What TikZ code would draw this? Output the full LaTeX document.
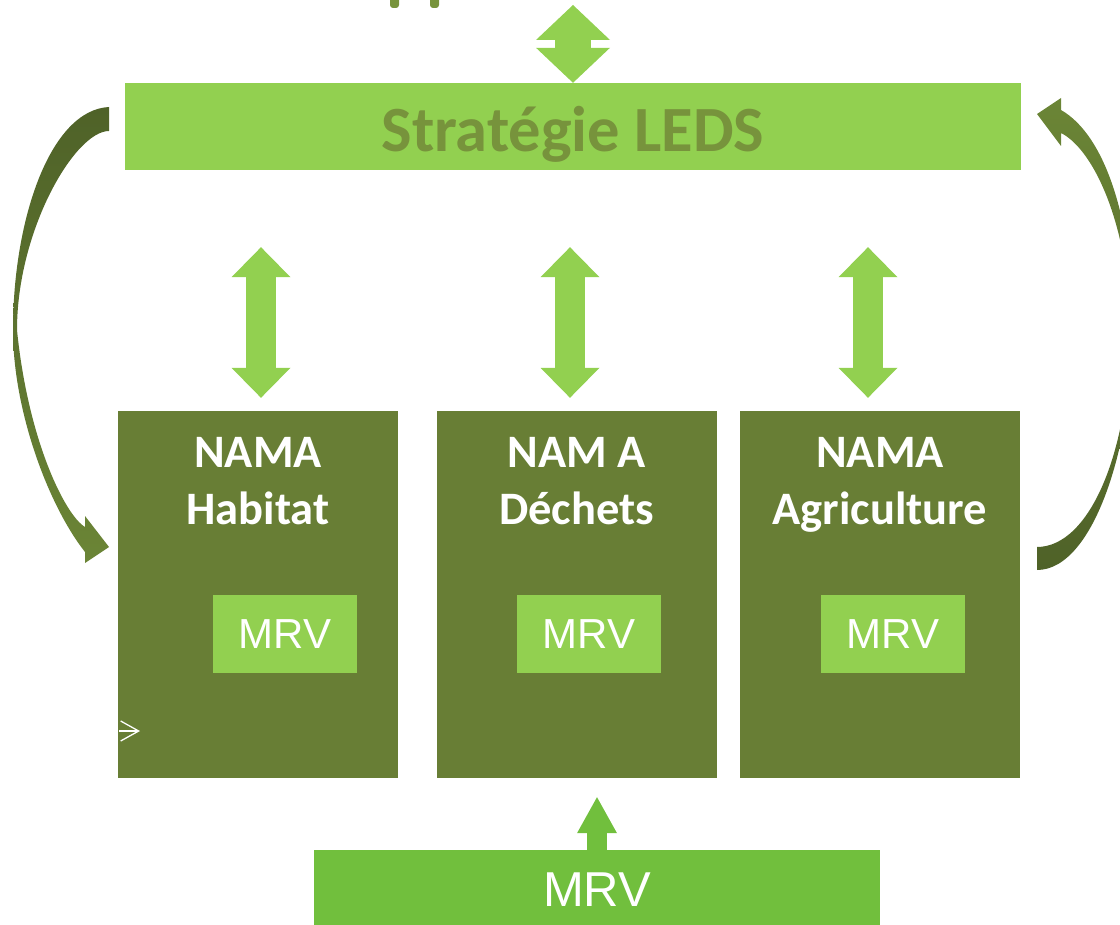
\documentclass[tikz,border=0pt]{standalone}
\usepackage{fontspec}
\setmainfont{Carlito}
\newfontfamily\mrvfont{Liberation Sans}
\usetikzlibrary{arrows.meta, positioning}

\definecolor{leafGreen}{HTML}{92D050}
\definecolor{oliveBox}{HTML}{687E35}
\definecolor{oliveText}{HTML}{77933C}
\definecolor{grassGreen}{HTML}{71BF3D}
\definecolor{mossDark}{HTML}{4F6228}
\definecolor{mossLight}{HTML}{6B8536}

\tikzset{
  namaBox/.style = {
    fill=oliveBox,
    minimum width=280pt,
    minimum height=367pt,
    inner sep=0pt,
  },
  namaTitle/.style = {
    text=white,
    align=center,
    inner sep=0pt,
    font=\fontsize{46.5}{57}\selectfont\bfseries,
  },
  mrvBox/.style = {
    fill=leafGreen,
    text=white,
    inner sep=0pt,
    minimum width=144pt,
    minimum height=78pt,
    font=\mrvfont\fontsize{42}{50}\selectfont,
  },
}

\begin{document}
\begin{tikzpicture}[
  x=1pt,
  y=-1pt,
  ledsBar/.style = {
    fill=leafGreen,
    text=oliveText,
    inner sep=0pt,
    minimum width=896pt,
    minimum height=87pt,
    text height=51pt,
    text depth=0pt,
    font=\fontsize{64.5}{70}\selectfont\bfseries,
  },
  mrvBar/.style = {
    fill=grassGreen,
    text=white,
    inner sep=0pt,
    minimum width=566pt,
    minimum height=80pt,
    font=\mrvfont\fontsize{49}{56}\selectfont,
  },
  link/.style = {
    draw=leafGreen,
    line width=30pt,
    {Triangle[length=30pt, width=59pt, line width=0pt]}-{Triangle[length=30pt, width=59pt, line width=0pt]},
    shorten <=77pt,
    shorten >=13pt,
  },
  bigLink/.style = {
    draw=leafGreen,
    line width=36pt,
    {Triangle[length=35pt, width=74pt, line width=0pt]}-{Triangle[length=35pt, width=74pt, line width=0pt]},
  },
  upLink/.style = {
    draw=grassGreen,
    line width=20pt,
    -{Triangle[length=36pt, width=40pt, line width=0pt]},
    shorten >=19pt,
  },
]

\useasboundingbox (0,0) rectangle (1120,925);

% cut-off marks at the top edge
\fill[oliveText, rounded corners=3pt] (390,-6) rectangle (399,8);
\fill[oliveText, rounded corners=3pt] (430,-6) rectangle (439,8);

\node(Leds)[ledsBar] at (573,126.5) {Stratégie LEDS};

\node(Hab)[namaBox] at (258,594.5) {};
\node(Dech)[namaBox] at (576.5,594.5) {};
\node(Agri)[namaBox] at (880,594.5) {};

\node(HabTitle)[namaTitle, below=26pt of Hab.north] {NAMA\\Habitat};
\node(DechTitle)[namaTitle, below=26pt of Dech.north] {NAM A\\Déchets};
\node(AgriTitle)[namaTitle, below=26pt of Agri.north] {NAMA\\Agriculture};

\node(HabMRV)[mrvBox] at (285,634) {MRV};
\node(DechMRV)[mrvBox] at (589,634) {MRV};
\node(AgriMRV)[mrvBox] at (893,634) {MRV};

\node(MrvBar)[mrvBar] at (597,890) {MRV};

\coordinate(TopTip) at (573,5);
\draw[bigLink] (Leds.north) -- (TopTip);

\draw[link] ([xshift=-312pt]Leds.south) -- ([xshift=3pt]Hab.north);
\draw[link] ([xshift=-3pt]Leds.south) -- ([xshift=-6.5pt]Dech.north);
\draw[link] ([xshift=295pt]Leds.south) -- ([xshift=-12pt]Agri.north);

\draw[upLink] (MrvBar.north) -- (MrvBar.north |- Dech.south);

% curved arrows
\shade[top color=mossDark, bottom color=mossLight]
  (109,107) .. controls (50,110) and (13,220) .. (13,330)
  .. controls (13,410) and (48,505) .. (85,552)
  -- (85,563) -- (109,547) -- (85,516) -- (85,527)
  .. controls (65,515) and (28,440) .. (17,330)
  .. controls (17,230) and (75,131) .. (109,131) -- cycle;

\shade[top color=mossLight, bottom color=mossDark]
  (1037,570) .. controls (1095,570) and (1133,440) .. (1133,330)
  .. controls (1133,220) and (1105,135) .. (1061,110)
  -- (1061,98) -- (1037,114) -- (1061,146) -- (1061,133)
  .. controls (1095,150) and (1130,230) .. (1130,330)
  .. controls (1130,450) and (1090,547) .. (1037,547) -- cycle;

\coordinate(StubStart) at (119,731);
\coordinate(StubEnd) at (140,731);
\draw[white, line width=1.3pt, -{Straight Barb[length=18pt, width=20pt]}] (StubStart) -- (StubEnd);

\end{tikzpicture}
\end{document}
